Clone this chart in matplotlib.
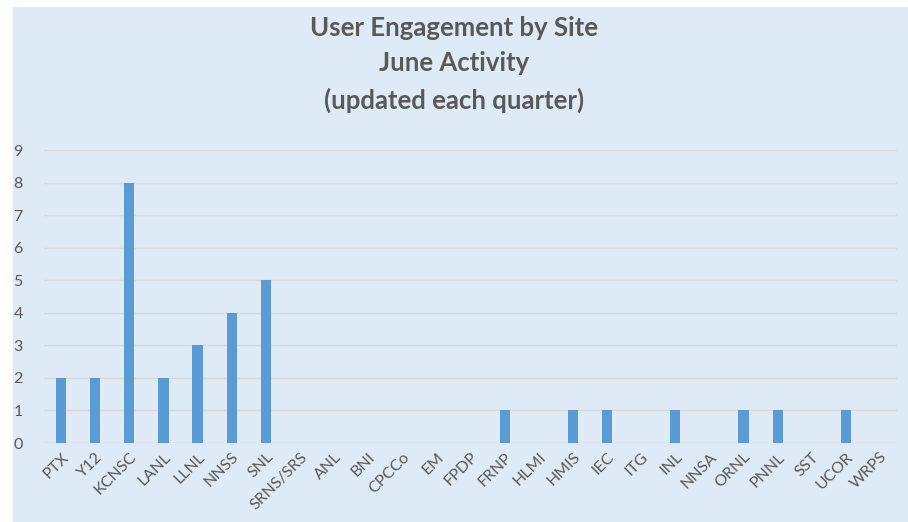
import numpy as np
import matplotlib.pyplot as plt
from matplotlib.patches import Rectangle

sites = ["PTX", "Y12", "KCNSC", "LANL", "LLNL", "NNSS", "SNL", "SRNS/SRS",
         "ANL", "BNI", "CPCCo", "EM", "FPDP", "FRNP", "HLMI", "HMIS", "IEC",
         "ITG", "INL", "NNSA", "ORNL", "PNNL", "SST", "UCOR", "WRPS"]
users = [2, 2, 8, 2, 3, 4, 5, 0, 0, 0, 0, 0, 0, 1, 0, 1, 1, 0, 1, 0, 1, 1, 0, 1, 0]
yticks = list(range(10))

bg = "#deeaf6"
txt = "#595959"

fig = plt.figure(figsize=(9.08, 5.22), dpi=100)
fig.patch.set_facecolor("white")
fig.patches.append(Rectangle((13 / 908, 0), 1, 1 - 7 / 522, transform=fig.transFigure,
                             facecolor=bg, edgecolor="none", zorder=-10))

ax = fig.add_axes([0.0485, 0.1513, 0.9395, 0.5613])
ax.set_facecolor(bg)
x = np.arange(len(sites))
ax.bar(x, users, width=0.3, color="#5b9bd5", zorder=3)

ax.set_xlim(-0.5, len(sites) - 0.5)
ax.set_ylim(0, 9)
ax.set_yticks(yticks)
ax.grid(axis="y", color="#d9d9d9", linewidth=1, zorder=0)
for s in ax.spines.values():
    s.set_visible(False)
ax.axhline(0, color="#d9d9d9", linewidth=1, zorder=2)

ax.set_xticks(x)
ax.set_xticklabels(sites, rotation=45, ha="right", rotation_mode="anchor",
                   fontsize=11.5, color=txt, family="Lato")
ax.tick_params(axis="both", length=0)
ax.tick_params(axis="x", pad=5)
ax.tick_params(axis="y", pad=22)
for lab in ax.get_yticklabels():
    lab.set_color(txt)
    lab.set_fontsize(11.5)
    lab.set_family("Lato")
    lab.set_horizontalalignment("left")

fig.text(0.5, 1 - 28 / 522, "User Engagement by Site", ha="center", va="center",
         fontsize=18.5, fontweight="bold", color=txt, family="Lato")
fig.text(0.5, 1 - 63 / 522, "June Activity", ha="center", va="center",
         fontsize=18.5, fontweight="bold", color=txt, family="Lato")
fig.text(0.5, 1 - 100 / 522, "(updated each quarter)", ha="center", va="center",
         fontsize=18.5, fontweight="bold", color=txt, family="Lato")

fig.savefig("out.png", dpi=100, facecolor=fig.get_facecolor())
